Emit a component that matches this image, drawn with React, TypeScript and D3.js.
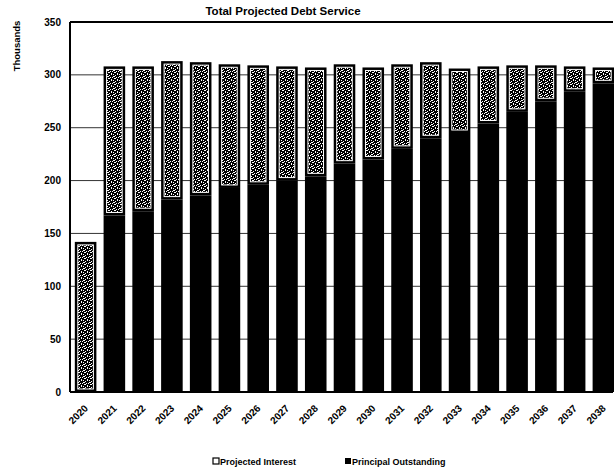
import React from "react";
import * as d3 from "d3";

const years = ["2020","2021","2022","2023","2024","2025","2026","2027","2028","2029","2030","2031","2032","2033","2034","2035","2036","2037","2038"];
const principal = [0,167,171,182,186,193,196,200,204,216,220,230,240,245,254,265,275,284,292];
const interest = [142,141,137,131,126,117,113,108,103,94,87,80,72,61,54,44,34,24,15];
const yTicks = [0,50,100,150,200,250,300,350];

const W = 614, H = 472;
const left = 70, top = 22, bottom = 392, right = 613;

export default function App() {
  const x = d3.scaleBand<string>().domain(years).range([70.5, 618.5]).paddingInner(0.25).paddingOuter(0.15);
  const y = d3.scaleLinear().domain([0, 350]).range([bottom, top]);
  const font = "'Liberation Sans', Arial, sans-serif";
  return (
    <svg width={W} height={H} style={{ position: "absolute", left: 0, top: 0, background: "#fff" }} fontFamily={font}>
      <defs>
        <pattern id="speck" width="6" height="6" patternUnits="userSpaceOnUse">
          <rect width="6" height="6" fill="#000" />
          <rect x="0" y="0" width="2" height="1" fill="#fff" />
          <rect x="3" y="1" width="1" height="2" fill="#fff" />
          <rect x="1" y="3" width="1" height="1" fill="#fff" />
          <rect x="5" y="4" width="1" height="1" fill="#fff" />
          <rect x="4" y="5" width="1" height="1" fill="#fff" />
          <rect x="2" y="5" width="1" height="1" fill="#fff" />
          <rect x="5" y="2" width="1" height="1" fill="#fff" />
          <rect x="0" y="4" width="1" height="1" fill="#fff" />
        </pattern>
      </defs>
      <text x={283} y={15} textAnchor="middle" fontSize={11.5} fontWeight="bold">Total Projected Debt Service</text>
      <text transform={`translate(20,46) rotate(-90)`} textAnchor="middle" fontSize={9.5} fontWeight="bold">Thousands</text>
      {yTicks.map(t => (
        <g key={t}>
          <line x1={left} x2={right} y1={y(t)} y2={y(t)} stroke={t === 0 || t === 350 ? "#000" : "#333"} strokeWidth={t === 0 || t === 350 ? 2 : 1} />
          <text x={61} y={y(t) + 3.5} textAnchor="end" fontSize={10} fontWeight="bold">{t}</text>
        </g>
      ))}
      <line x1={left} x2={left} y1={top} y2={bottom} stroke="#000" strokeWidth={2} />
      {years.map((yr, i) => {
        const bx = x(yr)!;
        const bw = x.bandwidth();
        const p0 = y(0), p1 = y(principal[i]);
        const t1 = y(principal[i] + interest[i]);
        return (
          <g key={yr}>
            {principal[i] > 0 && <rect x={bx} y={p1} width={bw} height={p0 - p1} fill="#000" />}
            <rect x={bx} y={t1} width={bw} height={p1 - t1} fill="#000" />
            <rect x={bx + 3} y={t1 + 3} width={Math.max(0, bw - 6)} height={Math.max(0, p1 - t1 - 6)} fill="url(#speck)" stroke="#fff" strokeWidth={1} />
            <text transform={`translate(${bx + bw / 2 + 3},${bottom + 17}) rotate(-45)`} textAnchor="end" fontSize={10} fontWeight="bold">{yr}</text>
          </g>
        );
      })}
      <g fontSize={9} fontWeight="bold">
        <rect x={213} y={458} width={6} height={6} fill="#fff" stroke="#000" strokeWidth={1.2} />
        <text x={220} y={465}>Projected  Interest</text>
        <rect x={345} y={458} width={6} height={6} fill="#000" />
        <text x={352} y={465}>Principal Outstanding</text>
      </g>
    </svg>
  );
}
